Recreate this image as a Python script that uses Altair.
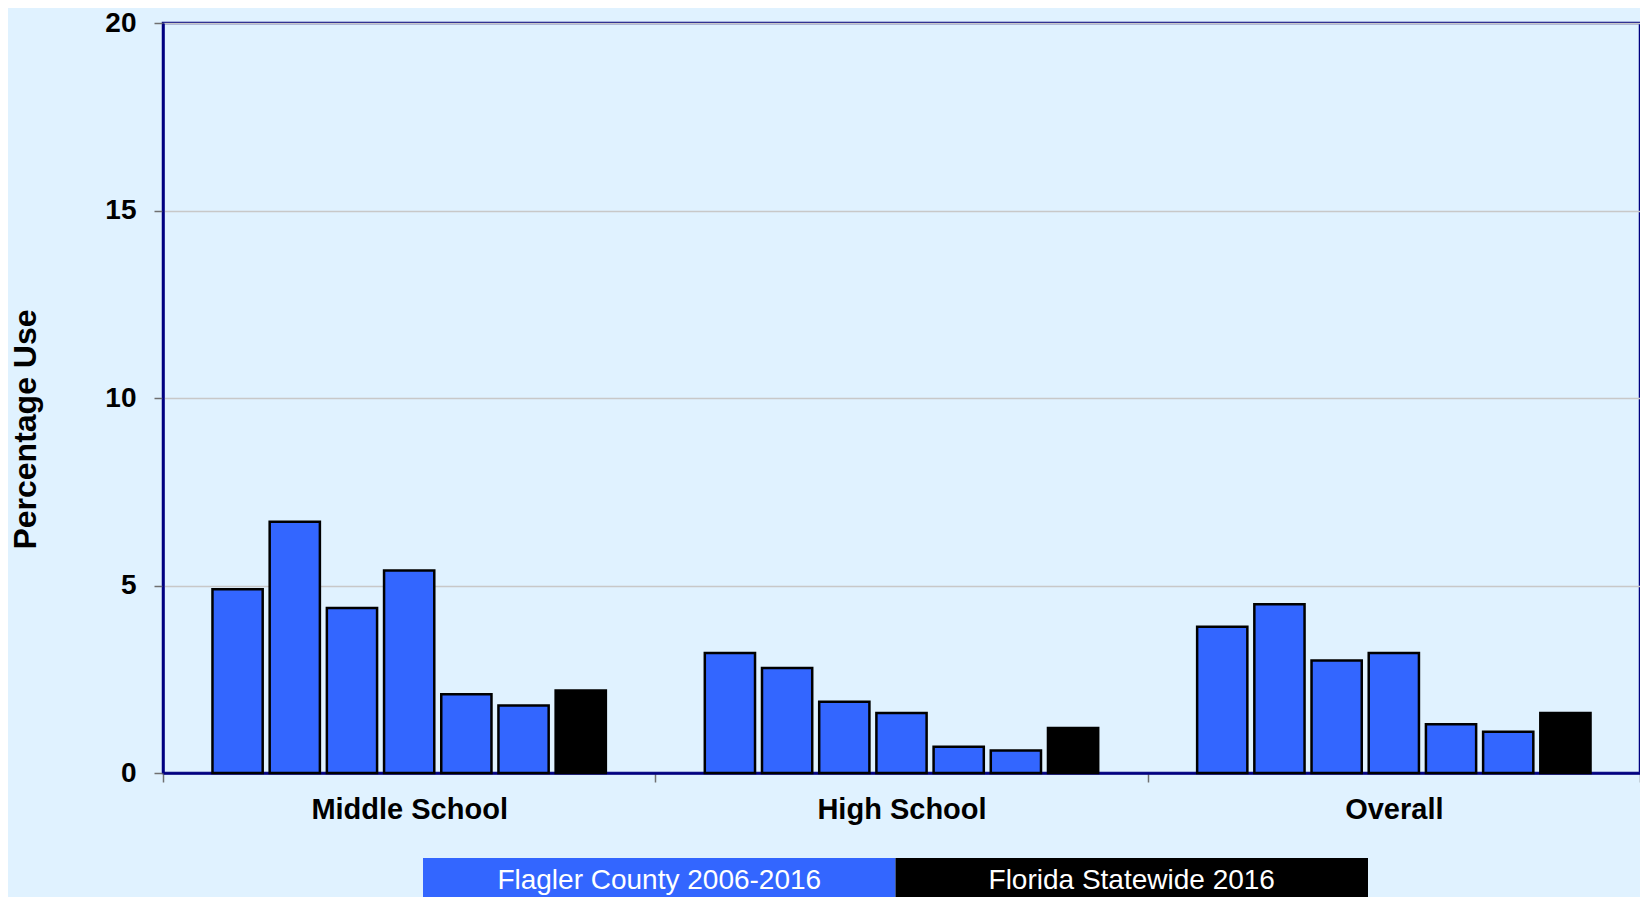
import altair as alt
import pandas as pd

groups = ["Middle School", "High School", "Overall"]
years = ["2006", "2008", "2010", "2012", "2014", "2016", "FL2016"]
sources = ["Flagler County 2006-2016"] * 6 + ["Florida Statewide 2016"]
middle_school = [4.9, 6.7, 4.4, 5.4, 2.1, 1.8, 2.2]
high_school = [3.2, 2.8, 1.9, 1.6, 0.7, 0.6, 1.2]
overall = [3.9, 4.5, 3.0, 3.2, 1.3, 1.1, 1.6]
y_ticks = [0, 5, 10, 15, 20]
legend_labels = ["Flagler County 2006-2016", "Florida Statewide 2016"]
legend_colors = ["#3366FF", "#000000"]

rows = []
for g, vals in zip(groups, [middle_school, high_school, overall]):
    for yr, src, v in zip(years, sources, vals):
        rows.append({"group": g, "year": yr, "source": src, "value": v})
df = pd.DataFrame(rows)
leg = pd.DataFrame({"label": legend_labels, "row": ["r"] * 2})

FONT = "Liberation Sans"
NAVY = "#000080"

bars = alt.Chart(df).mark_bar(stroke="black", strokeWidth=2.5).encode(
    x=alt.X("group:N", sort=groups, title=None,
            scale=alt.Scale(paddingInner=0, paddingOuter=0),
            axis=alt.Axis(labelAngle=0, labelFont=FONT, labelFontSize=29,
                          labelFontWeight="bold", labelColor="black", labelLimit=0,
                          labelPadding=13, tickBand="extent", tickSize=9,
                          tickColor="#707070", tickWidth=1.5,
                          domainColor=NAVY, domainWidth=2.5, grid=False)),
    xOffset=alt.XOffset("year:N", sort=years,
                        scale=alt.Scale(paddingInner=0.122, paddingOuter=0.865)),
    y=alt.Y("value:Q", title="Percentage Use",
            scale=alt.Scale(domain=[0, 20], nice=False),
            axis=alt.Axis(values=y_ticks, labelFont=FONT, labelFontSize=28,
                          labelFontWeight="bold", labelColor="black",
                          labelPadding=18, tickSize=9, tickColor="#707070",
                          tickWidth=1.5, domainColor=NAVY, domainWidth=2.5,
                          gridColor="#C8C8C8", gridWidth=1.5,
                          titleFont=FONT, titleFontSize=32, titleFontWeight="bold",
                          titleColor="black", titleAngle=270, titleBaseline="middle",
                          titleAlign="center", titleX=-138, titleY=406)),
    color=alt.Color("source:N", scale=alt.Scale(domain=legend_labels, range=legend_colors),
                    legend=None),
)

legend_x = alt.X("label:N", sort=legend_labels, axis=None,
                 scale=alt.Scale(range=[260, 1205], paddingInner=0, paddingOuter=0))
legend_y = alt.Y("row:N", axis=None,
                 scale=alt.Scale(range=[835, 888], paddingInner=0, paddingOuter=0))

legend_box = alt.Chart(leg).mark_rect(strokeWidth=0).encode(
    x=legend_x, y=legend_y,
    color=alt.Color("label:N", scale=alt.Scale(domain=legend_labels, range=legend_colors),
                    legend=None),
)
legend_text = alt.Chart(leg).mark_text(font=FONT, fontSize=28, color="white",
                                       baseline="middle", align="center", dy=-4).encode(
    x=legend_x, y=legend_y, text="label:N",
)

legend_layer = alt.layer(legend_box, legend_text)

chart = alt.layer(bars, legend_layer).resolve_scale(
    x="independent", y="independent", color="independent"
).properties(
    width=1477, height=750,
    background="#E0F2FF",
    autosize=alt.AutoSizeParams(type="none"),
    padding={"left": 155, "top": 15, "right": 0, "bottom": 124},
).configure_view(stroke=NAVY, strokeWidth=2.5)

chart.save("out.html", embed_options={"renderer": "svg", "actions": False})
